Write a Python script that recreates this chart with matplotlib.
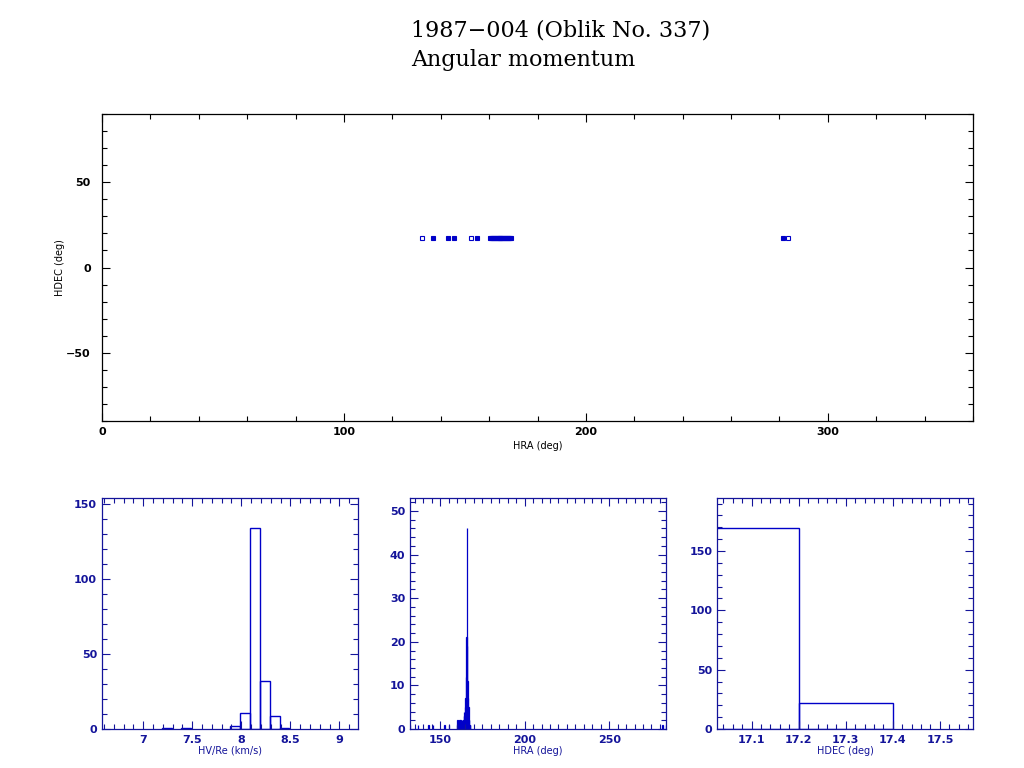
import numpy as np
import matplotlib.pyplot as plt
from matplotlib.ticker import MultipleLocator

# Angular momentum direction of each observation (deg)
hra_obs = [132.2, 136.9, 143.1, 145.6, 152.5, 155.1,
           160.3, 160.7, 161.1, 161.5, 161.9, 162.3, 162.7, 163.1, 163.5,
           163.9, 164.3, 164.7, 165.1, 165.5, 165.9, 166.3, 166.7, 167.1,
           167.5, 167.9, 168.3, 168.6, 168.9,
           281.5, 283.6]
hdec_obs = [17.1, 17.1, 17.1, 17.1, 17.1, 17.1,
            17.1, 17.2, 17.1, 17.2, 17.1, 17.2, 17.1, 17.2, 17.1,
            17.2, 17.1, 17.2, 17.1, 17.3, 17.1, 17.2, 17.1, 17.2,
            17.1, 17.2, 17.1, 17.2, 17.1,
            17.1, 17.1]
hollow = [True, False, False, False, True, False] + [False] * 23 + [False, True]

# HV/Re histogram (bin width 0.1 km/s)
hv_left = [7.19, 7.39, 7.89, 7.99, 8.09, 8.19, 8.29, 8.39]
hv_counts = [1, 1, 2, 11, 134, 32, 9, 1]

# HRA histogram (bin width 0.2 deg)
hra_bin0 = 160.0
hra_counts = [1, 2, 1, 2, 0, 1, 1, 2, 0, 1, 2, 1, 1, 0, 2, 1, 1, 1, 2, 2,
              3, 4, 3, 3, 5, 7, 6, 12, 21, 46, 19, 11, 7, 5, 2, 2, 1, 1, 1, 0]
hra_single = [132.2, 136.9, 143.1, 145.6, 152.5, 155.1, 281.5, 283.6]

# HDEC histogram (bin width 0.2 deg)
hdec_left = [17.0, 17.2]
hdec_counts = [169, 22]

navy = '#14149a'
blue = '#0000c8'

fig = plt.figure(figsize=(10.24, 7.68), dpi=100)

fig.text(411 / 1024, 1 - 30 / 768, '1987\u2212004 (Oblik No. 337)',
         family='DejaVu Serif', fontsize=16, ha='left', va='center')
fig.text(411 / 1024, 1 - 60 / 768, 'Angular momentum',
         family='DejaVu Serif', fontsize=16, ha='left', va='center')


def style(ax, color, xmaj, xmin, ymaj, ymin, ypad=3.5):
    ax.xaxis.set_major_locator(MultipleLocator(xmaj))
    ax.xaxis.set_minor_locator(MultipleLocator(xmin))
    ax.yaxis.set_major_locator(MultipleLocator(ymaj))
    ax.yaxis.set_minor_locator(MultipleLocator(ymin))
    ax.tick_params(which='both', direction='in', top=True, right=True,
                   color=color, width=0.8, labelcolor=color, labelsize=8)
    ax.tick_params(which='major', length=6)
    ax.tick_params(which='minor', length=3.5)
    ax.tick_params(axis='x', pad=4)
    ax.tick_params(axis='y', pad=ypad)
    for s in ax.spines.values():
        s.set_color(color)
        s.set_linewidth(0.9)
    for lab in ax.get_xticklabels() + ax.get_yticklabels():
        lab.set_fontweight('bold')


# Top panel: HDEC vs HRA
ax = fig.add_axes([102 / 1024, 1 - 421 / 768, 871 / 1024, 307 / 768])
for x, y, h in zip(hra_obs, hdec_obs, hollow):
    ax.plot(x, y, 's', ms=3, mec=blue, mfc='none' if h else blue, mew=0.8)
ax.set_xlim(0, 360)
ax.set_ylim(-90, 90)
style(ax, 'black', 100, 20, 50, 10, ypad=8)
ax.set_xlabel('HRA (deg)', fontsize=7, labelpad=3)
ax.set_ylabel('HDEC (deg)', fontsize=7, labelpad=1)

# Bottom left: HV/Re
ax1 = fig.add_axes([102 / 1024, 1 - 729 / 768, 256 / 1024, 230.7 / 768])
ax1.bar(hv_left, hv_counts, width=0.1, align='edge', fill=False,
        edgecolor=blue, linewidth=1)
ax1.set_xlim(6.58, 9.19)
ax1.set_ylim(0, 154)
style(ax1, navy, 0.5, 0.1, 50, 10)
ax1.set_xticks([7, 7.5, 8, 8.5, 9])
ax1.set_xticklabels(['7', '7.5', '8', '8.5', '9'], fontweight='bold')
ax1.set_xlabel('HV/Re (km/s)', fontsize=7, color=navy, labelpad=1)

# Bottom middle: HRA
ax2 = fig.add_axes([410 / 1024, 1 - 729 / 768, 256 / 1024, 230.7 / 768])
hra_left = hra_bin0 + 0.2 * np.arange(len(hra_counts))
ax2.bar(hra_left, hra_counts, width=0.2, align='edge', fill=False,
        edgecolor=blue, linewidth=0.9)
ax2.bar(hra_single, [1] * len(hra_single), width=0.2, align='edge',
        fill=False, edgecolor=blue, linewidth=0.9)
ax2.set_xlim(132.2, 283.6)
ax2.set_ylim(0, 52.9)
style(ax2, navy, 50, 5, 10, 2)
ax2.set_xlabel('HRA (deg)', fontsize=7, color=navy, labelpad=1)

# Bottom right: HDEC
ax3 = fig.add_axes([717.3 / 1024, 1 - 729 / 768, 256 / 1024, 230.7 / 768])
ax3.bar(hdec_left, hdec_counts, width=0.2, align='edge', fill=False,
        edgecolor=blue, linewidth=1)
ax3.set_xlim(17.027, 17.571)
ax3.set_ylim(0, 194.4)
style(ax3, navy, 0.1, 0.02, 50, 10)
ax3.set_xlabel('HDEC (deg)', fontsize=7, color=navy, labelpad=1)

fig.savefig('out.png', dpi=100)
